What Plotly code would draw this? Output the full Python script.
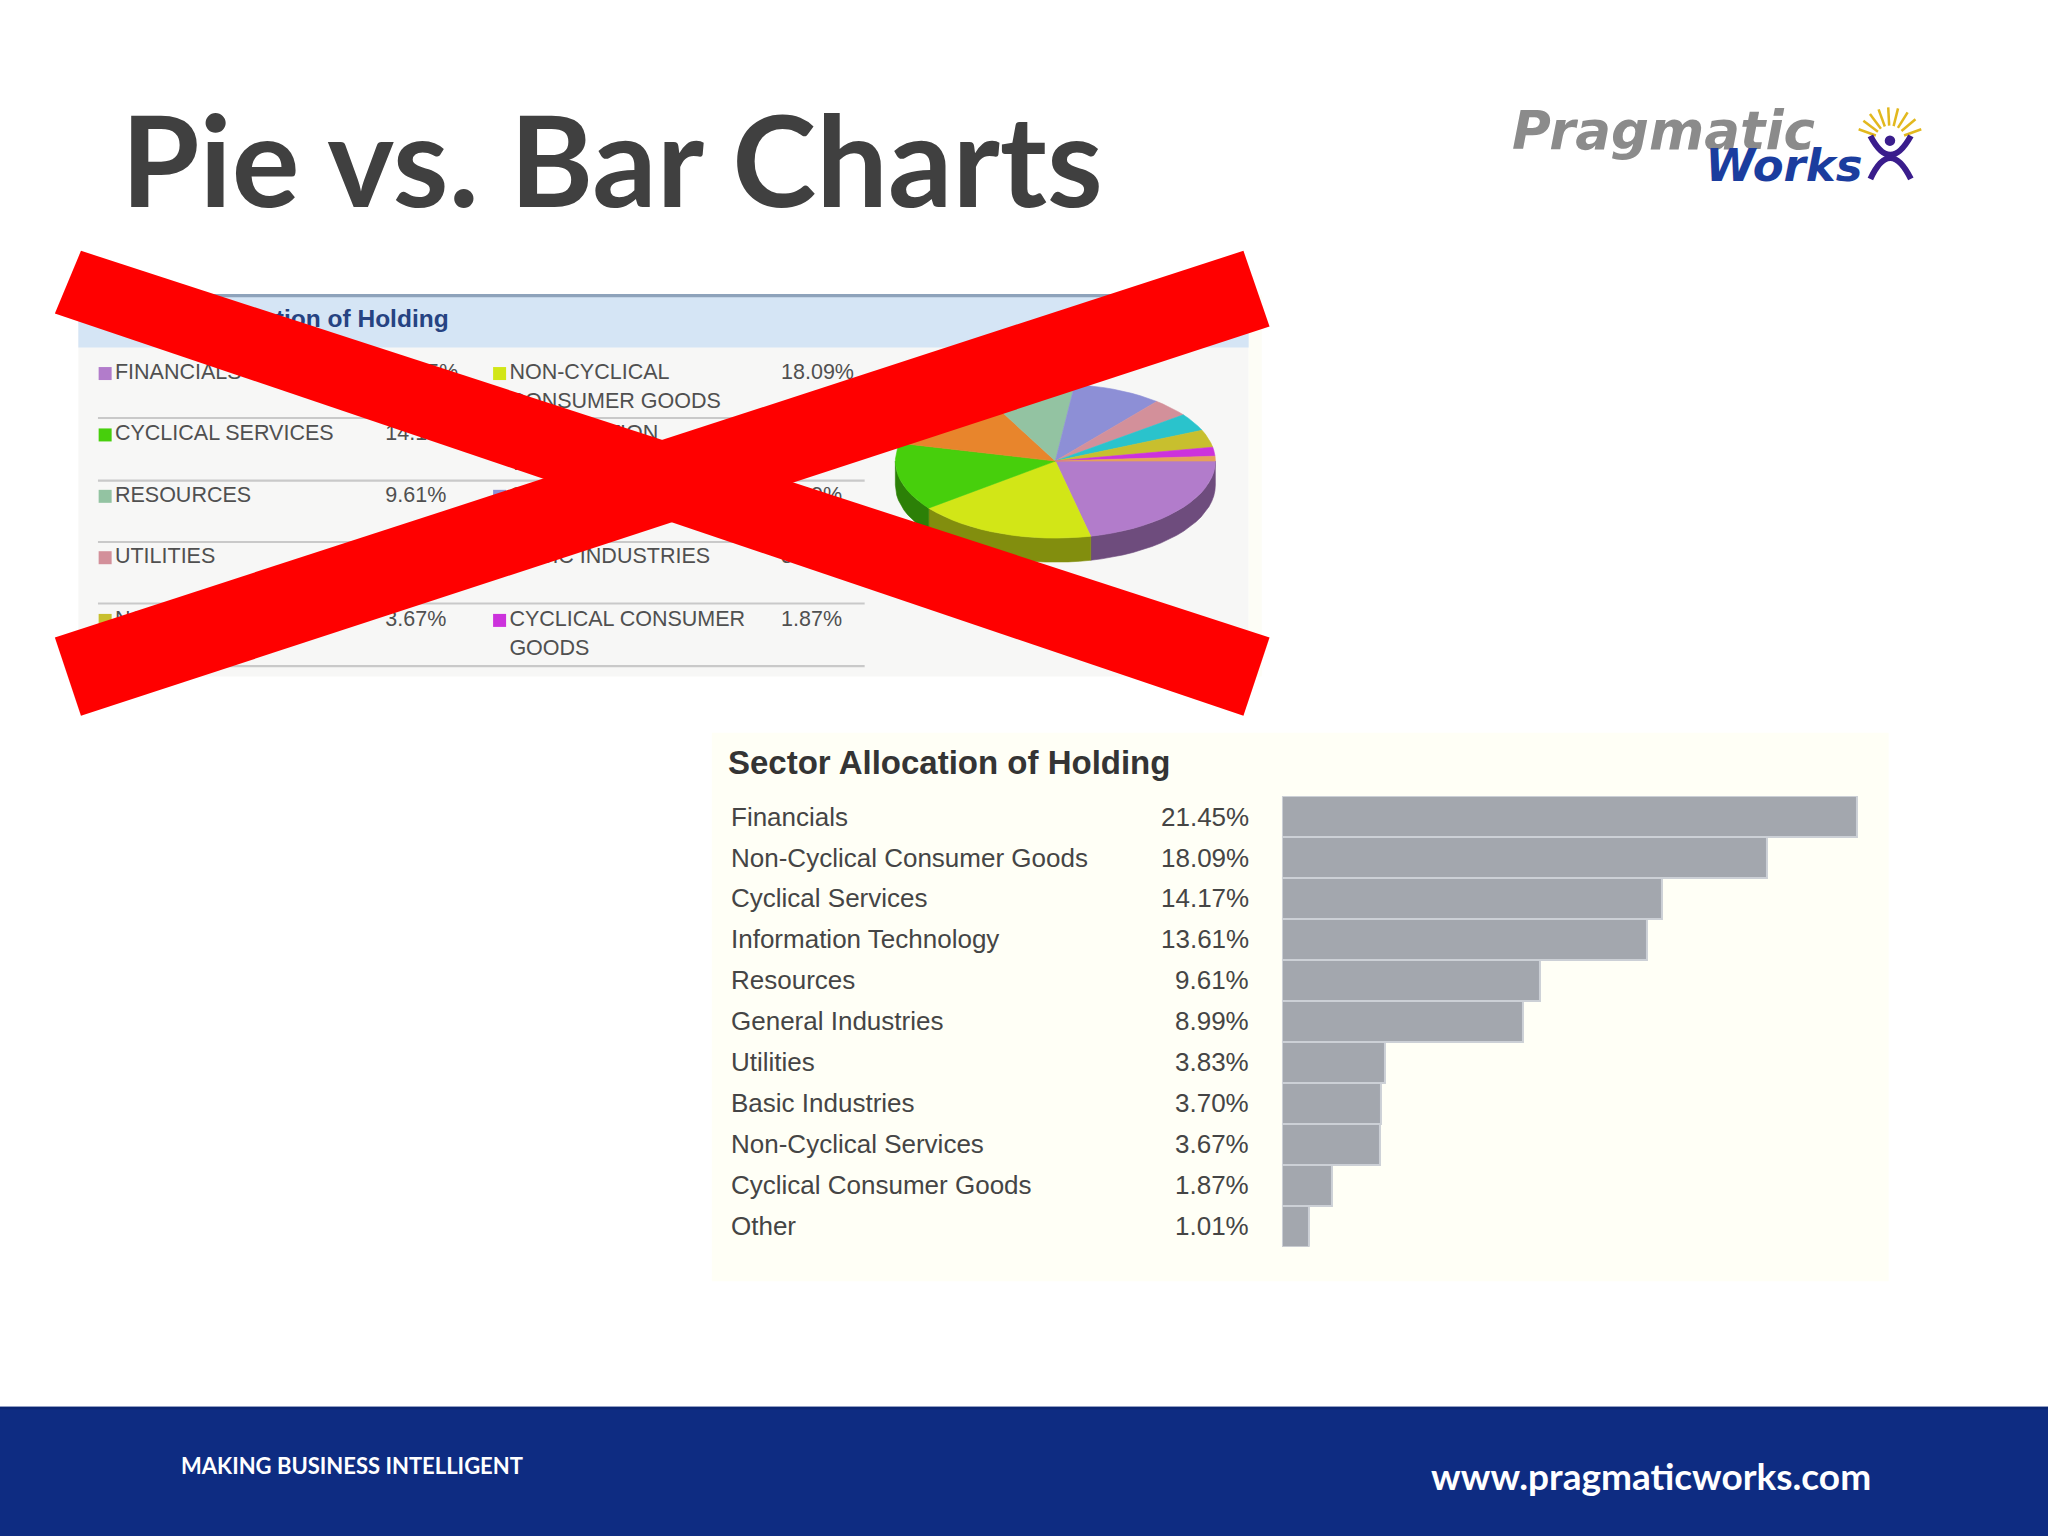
import math
import plotly.graph_objects as go

# ---------------- data ----------------
sectors = ["Financials", "Non-Cyclical Consumer Goods", "Cyclical Services",
           "Information Technology", "Resources", "General Industries",
           "Utilities", "Basic Industries", "Non-Cyclical Services",
           "Cyclical Consumer Goods", "Other"]
weights = [21.45, 18.09, 14.17, 13.61, 9.61, 8.99, 3.83, 3.70, 3.67, 1.87, 1.01]

legend_col1 = ["FINANCIALS", "CYCLICAL SERVICES", "RESOURCES", "UTILITIES",
               "NON-CYCLICAL<br>SERVICES"]
legend_col1_sector = ["Financials", "Cyclical Services", "Resources", "Utilities",
                      "Non-Cyclical Services"]
legend_col2 = ["NON-CYCLICAL<br>CONSUMER GOODS", "INFORMATION<br>TECHNOLOGY",
               "GENERAL INDUSTRIES", "BASIC INDUSTRIES", "CYCLICAL CONSUMER<br>GOODS"]
legend_col2_sector = ["Non-Cyclical Consumer Goods", "Information Technology",
                      "General Industries", "Basic Industries", "Cyclical Consumer Goods"]

slide_title = "Pie vs. Bar Charts"
chart_title = "Sector Allocation of Holding"
footer_left = "MAKING BUSINESS INTELLIGENT"
footer_right = "www.pragmaticworks.com"
logo_top = "Pragmatic"
logo_bottom = "Works"

# ---------------- styles ----------------
pie_colors = ["#b27ccb", "#d2e617", "#47cf0c", "#e8852c", "#93c3a2", "#8d8fd6",
              "#d3909a", "#2ac3cc", "#c8bf2e", "#cc32dc", "#e6a15a"]
color_of = dict(zip(sectors, pie_colors))
value_of = dict(zip(sectors, weights))

W, H = 1568.0, 1176.0          # layout units (scaled to 2048 x 1536 output)
FIG_W, FIG_H = 2048, 1536


def px(x):
    return x / W


def py(y):
    return 1 - y / H


def prect(x0, y0, x1, y1, color):
    return dict(type="rect", xref="paper", yref="paper", layer="below",
                x0=px(x0), x1=px(x1), y0=py(y1), y1=py(y0), fillcolor=color,
                line=dict(width=0))


def darker(hexc, f=0.62):
    r, g, b = int(hexc[1:3], 16), int(hexc[3:5], 16), int(hexc[5:7], 16)
    return "rgb(%d,%d,%d)" % (r * f, g * f, b * f)


fig = go.Figure()
shapes = []
annotations = []

# ---------------- backgrounds ----------------
shapes.append(prect(0, 1077, W, H, "#0e2c82"))
shapes.append(prect(0, 1077, W, 1079, "#0a2673"))
# pie screenshot panel
shapes.append(prect(60, 226, 956, 518, "#f7f7f6"))
shapes.append(prect(956, 226, 966, 518, "#fdfdf6"))
shapes.append(prect(60, 226, 956, 266, "#d5e5f5"))
shapes.append(prect(60, 225, 956, 227.5, "#8ea3bb"))
for ly in [320, 368, 415, 462, 510]:
    shapes.append(prect(75, ly - 0.8, 662, ly + 0.8, "#c9c9c9"))
# bar panel
shapes.append(prect(545, 561, 1446, 981, "#fffff6"))

# ---------------- bar chart ----------------
bar_x0 = 981.5
px_per_pct = 440.5 / 21.45
xmax = 22
fig.add_trace(go.Bar(
    x=weights, y=sectors, orientation="h",
    marker=dict(color="#a3a7ae", line=dict(color="#ccd0d6", width=2)),
    hoverinfo="skip", showlegend=False, xaxis="x", yaxis="y"))

for s, v in zip(sectors, weights):
    annotations.append(dict(x=px(558), xref="paper", y=s, yref="y", text=s,
                            xanchor="left", yanchor="middle", showarrow=False,
                            font=dict(family="Liberation Sans, Arial", size=26, color="#454545")))
    annotations.append(dict(x=px(958), xref="paper", y=s, yref="y", text="%.2f%%" % v,
                            xanchor="right", yanchor="middle", showarrow=False,
                            font=dict(family="Liberation Sans, Arial", size=26, color="#454545")))

annotations.append(dict(x=px(556), y=py(584), xref="paper", yref="paper", text="<b>%s</b>" % chart_title,
                        xanchor="left", yanchor="middle", showarrow=False,
                        font=dict(family="Liberation Sans, Arial", size=33, color="#343434")))

# ---------------- pie screenshot (overlay axes) ----------------
cx, cy, ra, rb, dep = 808.0, 353.0, 122.5, 59.0, 18.4
total = sum(weights)
angles = []
t = 0.0
for w in weights:
    t2 = t + w / total * 2 * math.pi
    angles.append((t, t2))
    t = t2


def arc(t1, t2, yoff=0.0, n=40):
    k = max(2, int(n * (t2 - t1) / math.pi) + 2)
    xs, ys = [], []
    for i in range(k + 1):
        tt = t1 + (t2 - t1) * i / k
        xs.append(cx + ra * math.cos(tt))
        ys.append(cy + yoff + rb * math.sin(tt))
    return xs, ys


# sides (front half only)
for (t1, t2), s in zip(angles, sectors):
    s1, s2 = max(t1, 0), min(t2, math.pi)
    if s2 > s1:
        xa, ya = arc(s1, s2)
        xb, yb = arc(s1, s2, dep)
        xs = xa + xb[::-1]
        ys = ya + yb[::-1]
        fig.add_trace(go.Scatter(x=xs + [xs[0]], y=ys + [ys[0]], mode="lines", fill="toself",
                                 fillcolor=darker(color_of[s]), line=dict(width=0.6, color=darker(color_of[s])),
                                 hoverinfo="skip", showlegend=False, xaxis="x2", yaxis="y2"))
# tops
for (t1, t2), s in zip(angles, sectors):
    xa, ya = arc(t1, t2)
    xs = [cx] + xa + [cx]
    ys = [cy] + ya + [cy]
    fig.add_trace(go.Scatter(x=xs, y=ys, mode="lines", fill="toself",
                             fillcolor=color_of[s], line=dict(width=0.6, color=color_of[s]),
                             hoverinfo="skip", showlegend=False, xaxis="x2", yaxis="y2"))

# header of the pie panel
fig.add_trace(go.Scatter(x=[92], y=[245.5], mode="text", text=["<b>%s</b>" % chart_title],
                         textposition="middle right",
                         textfont=dict(family="Liberation Sans, Arial", size=24.5, color="#264382"),
                         hoverinfo="skip", showlegend=False, xaxis="x2", yaxis="y2"))

row_y = [286, 333, 380, 427, 475]
line_gap = 22.5
leg_font = dict(family="Liberation Sans, Arial", size=21.5, color="#505050")
for labels, secs, xsq, xlab, xval in [(legend_col1, legend_col1_sector, 80.5, 88, 295),
                                       (legend_col2, legend_col2_sector, 382.5, 390, 598)]:
    fig.add_trace(go.Scatter(x=[xsq] * len(secs), y=row_y, mode="markers",
                             marker=dict(symbol="square", size=13,
                                         color=[color_of[s] for s in secs], line=dict(width=0)),
                             hoverinfo="skip", showlegend=False, xaxis="x2", yaxis="y2"))
    tx, ty, tt = [], [], []
    for lab, yy in zip(labels, row_y):
        for j, part in enumerate(lab.split("<br>")):
            tx.append(xlab)
            ty.append(yy + j * line_gap)
            tt.append(part)
    fig.add_trace(go.Scatter(x=tx, y=ty, mode="text", text=tt, textposition="middle right",
                             textfont=leg_font, hoverinfo="skip", showlegend=False,
                             xaxis="x2", yaxis="y2"))
    fig.add_trace(go.Scatter(x=[xval] * len(secs), y=row_y, mode="text",
                             text=["%.2f%%" % value_of[s] for s in secs], textposition="middle right",
                             textfont=leg_font, hoverinfo="skip", showlegend=False,
                             xaxis="x2", yaxis="y2"))

# ---------------- red X ----------------
red = "#ff0000"
shapes.append(dict(type="path", xref="x2", yref="y2", layer="above",
                   path="M 62 192 L 972 488 L 952 548 L 42 240 Z",
                   fillcolor=red, line=dict(width=0)))
shapes.append(dict(type="path", xref="x2", yref="y2", layer="above",
                   path="M 42 488 L 952 192 L 972 250 L 62 548 Z",
                   fillcolor=red, line=dict(width=0)))

# ---------------- logo ----------------
logo_text = ("<b><i><span style='color:#8b8b8b;font-size:53px'>%s&nbsp;&nbsp;\u2009</span><br>"
             "<span style='color:#1b3d9e;font-size:45px'>%s</span></i></b>" % (logo_top, logo_bottom))
annotations.append(dict(x=px(1426), y=py(112), xref="paper", yref="paper",
                        text=logo_text, xanchor="right", yanchor="middle", align="right",
                        showarrow=False, borderpad=0,
                        font=dict(family="DejaVu Sans", size=24.5, color="#8b8b8b")))
hx, hy = 1447.0, 107.7
for ang in [160, 143, 127, 110, 93, 76, 58, 40, 20]:
    a = math.radians(ang)
    shapes.append(dict(type="line", xref="x2", yref="y2", layer="above",
                       x0=hx + 11.5 * math.cos(a), y0=hy - 11.5 * math.sin(a),
                       x1=hx + 25.5 * math.cos(a), y1=hy - 25.5 * math.sin(a),
                       line=dict(color="#e2b81e", width=2.5)))
shapes.append(dict(type="circle", xref="x2", yref="y2", layer="above",
                   x0=hx - 4, x1=hx + 4, y0=hy - 4, y1=hy + 4,
                   fillcolor="#3a1d8c", line=dict(width=0)))
shapes.append(dict(type="path", xref="x2", yref="y2", layer="above",
                   path="M 1432 104 Q 1447 133 1463 104",
                   line=dict(color="#3a1d8c", width=6)))
shapes.append(dict(type="path", xref="x2", yref="y2", layer="above",
                   path="M 1432 137 Q 1447 105 1463 137",
                   line=dict(color="#3a1d8c", width=6)))

# ---------------- slide title & footer ----------------
annotations.append(dict(x=px(92), y=py(121), xref="paper", yref="paper",
                        text="<b>%s</b>" % slide_title, xanchor="left", yanchor="middle",
                        showarrow=False, borderpad=0,
                        font=dict(family="Lato", size=127, color="#404040")))
annotations.append(dict(x=px(137), y=py(1122), xref="paper", yref="paper",
                        text="<b>%s</b>" % footer_left, xanchor="left", yanchor="middle",
                        showarrow=False,
                        font=dict(family="Lato", size=22, color="#ffffff")))
annotations.append(dict(x=px(1434), y=py(1130), xref="paper", yref="paper",
                        text="<b>%s</b>" % footer_right, xanchor="right", yanchor="middle",
                        showarrow=False,
                        font=dict(family="Lato", size=37, color="#ffffff")))

fig.update_layout(
    width=FIG_W, height=FIG_H,
    margin=dict(l=0, r=0, t=0, b=0),
    paper_bgcolor="#ffffff", plot_bgcolor="rgba(0,0,0,0)",
    bargap=0, showlegend=False,
    shapes=shapes, annotations=annotations,
    xaxis=dict(domain=[px(bar_x0), px(bar_x0 + xmax * px_per_pct)], range=[0, xmax],
               visible=False, fixedrange=True),
    yaxis=dict(domain=[py(954.5), py(609.5)], autorange="reversed", type="category",
               categoryorder="array", categoryarray=sectors,
               visible=False, fixedrange=True),
    xaxis2=dict(domain=[0, 1], range=[0, W], visible=False, fixedrange=True, anchor="y2"),
    yaxis2=dict(domain=[0, 1], range=[H, 0], visible=False, fixedrange=True, anchor="x2"),
)

fig.write_html("out.html", config={"displayModeBar": False},
               post_script="document.body.style.margin='0';"
                           "document.documentElement.style.overflow='hidden';"
                           "document.body.style.overflow='hidden';")
